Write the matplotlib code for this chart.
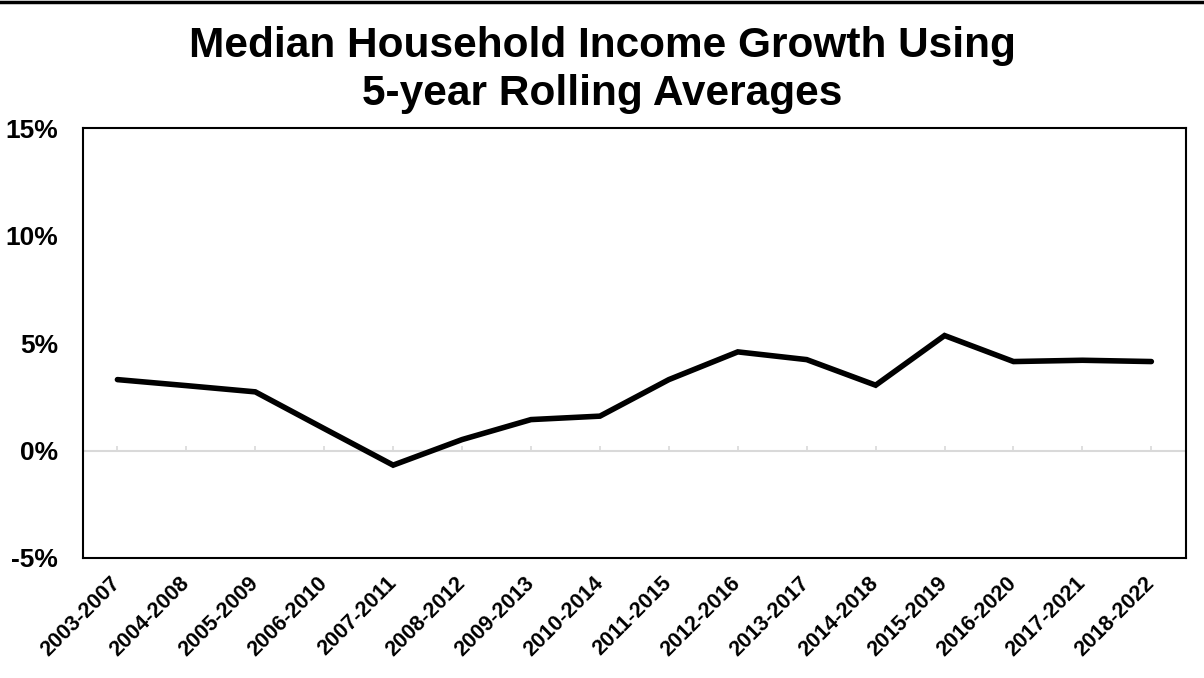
import matplotlib
matplotlib.use("Agg")
import matplotlib.pyplot as plt
from matplotlib.lines import Line2D
from matplotlib.ticker import FuncFormatter

periods = ["2003-2007", "2004-2008", "2005-2009", "2006-2010", "2007-2011",
           "2008-2012", "2009-2013", "2010-2014", "2011-2015", "2012-2016",
           "2013-2017", "2014-2018", "2015-2019", "2016-2020", "2017-2021",
           "2018-2022"]
growth_pct = [3.30, 3.02, 2.73, 1.02, -0.68, 0.51, 1.44, 1.60, 3.30, 4.59,
              4.23, 3.04, 5.35, 4.14, 4.20, 4.14]
y_ticks = [-5, 0, 5, 10, 15]

plt.rcParams['font.family'] = ['Liberation Sans', 'DejaVu Sans']

fig = plt.figure(figsize=(12.04, 6.78), dpi=100)
ax = fig.add_axes([0.0689, 0.177, 0.916, 0.634])

x = list(range(len(periods)))
ax.axhline(0, color='#d9d9d9', lw=1.5, zorder=1)
ax.vlines(x, 0, 0.2, color='#d9d9d9', lw=1.2, zorder=1)
ax.plot(x, growth_pct, color='black', lw=4, solid_capstyle='round',
        solid_joinstyle='miter', zorder=3)

ax.set_xlim(-0.5, len(periods) - 0.5)
ax.set_ylim(-5, 15)
ax.set_yticks(y_ticks)
ax.yaxis.set_major_formatter(FuncFormatter(lambda v, p: f"{v:.0f}%"))
ax.set_xticks(x)
ax.set_xticklabels(periods, rotation=45, ha='right', va='center',
                   rotation_mode='anchor')

ax.tick_params(axis='y', length=0, pad=18, labelsize=19)
ax.tick_params(axis='x', length=0, pad=16, labelsize=15.5)
for lab in ax.get_xticklabels() + ax.get_yticklabels():
    lab.set_fontweight('bold')

for s in ax.spines.values():
    s.set_color('black')
    s.set_linewidth(1.5)

fig.text(0.5, 0.932, "Median Household Income Growth Using",
         ha='center', va='center', fontsize=30.5, fontweight='bold')
fig.text(0.5, 0.861, "5-year Rolling Averages",
         ha='center', va='center', fontsize=30.5, fontweight='bold')

fig.add_artist(Line2D([0, 1], [0.997, 0.997], color='black', lw=2.5,
                      transform=fig.transFigure))

fig.savefig("out.png", dpi=100)
